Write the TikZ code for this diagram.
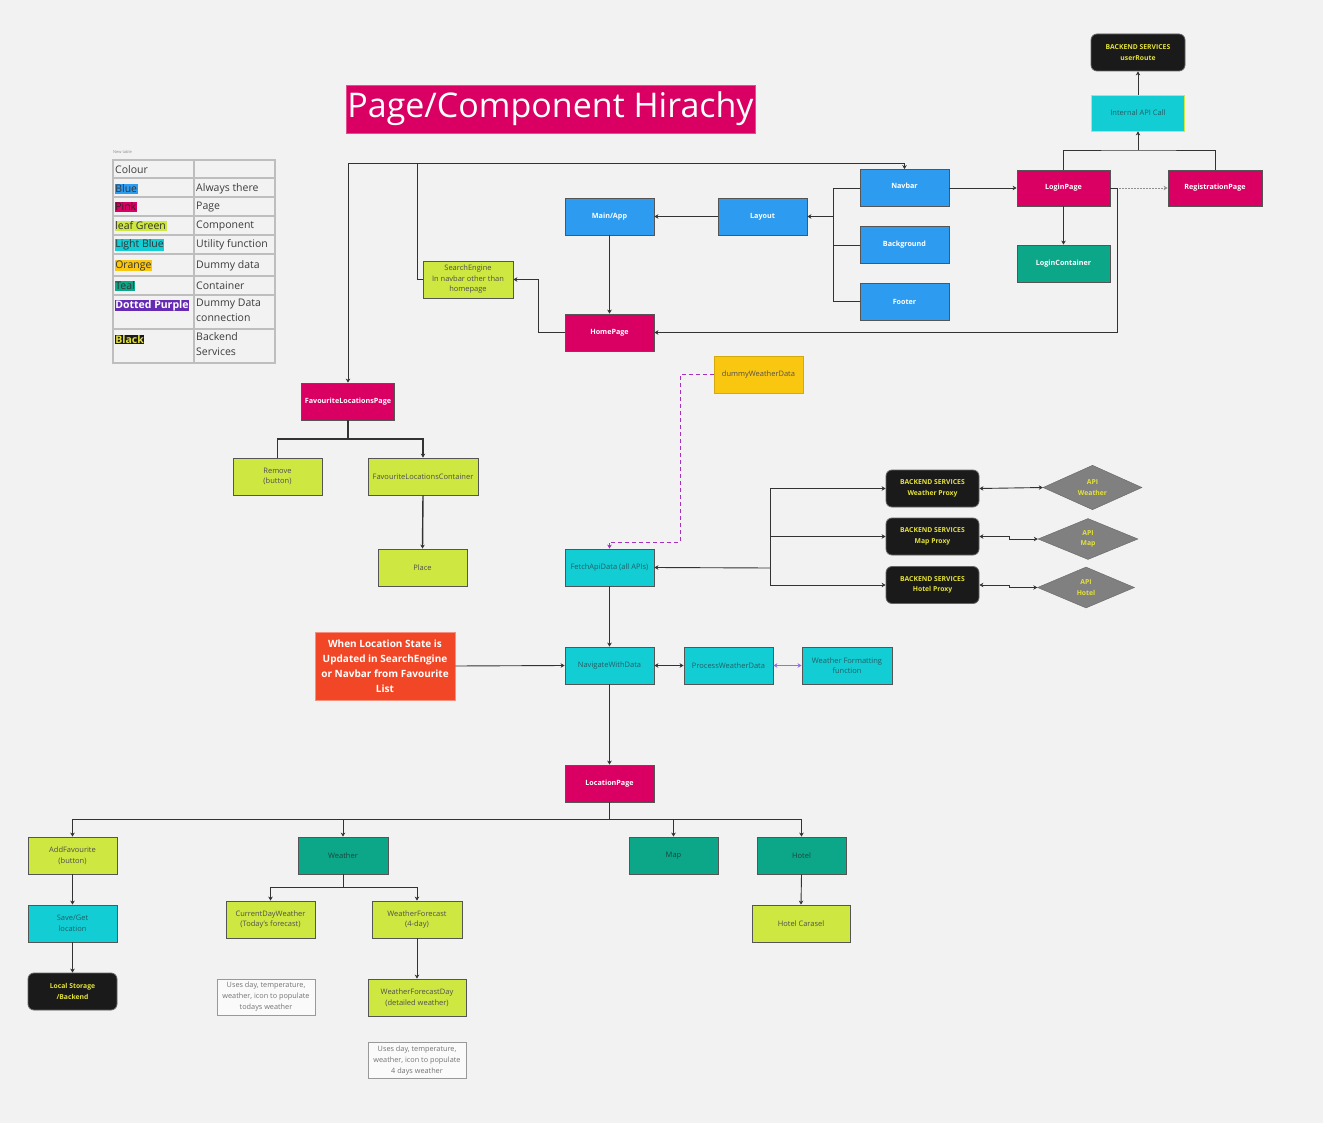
\documentclass[tikz,border=0pt]{standalone}
\usepackage{fontspec}
\setmainfont{Open Sans}
\usetikzlibrary{arrows.meta,shapes.geometric,positioning}
\definecolor{canvas}{RGB}{242,242,242}
\definecolor{alwaysblue}{RGB}{45,155,240}
\definecolor{pagepink}{RGB}{218,0,99}
\definecolor{leafgreen}{RGB}{206,231,65}
\definecolor{utilcyan}{RGB}{18,205,212}
\definecolor{dummyorange}{RGB}{250,199,16}
\definecolor{contteal}{RGB}{12,167,137}
\definecolor{backblack}{RGB}{26,26,26}
\definecolor{backyellow}{RGB}{228,226,58}
\definecolor{dottedpurple}{RGB}{101,44,179}
\definecolor{dashpurple}{RGB}{166,48,192}
\definecolor{softpurple}{RGB}{155,110,225}
\definecolor{triggerred}{RGB}{242,71,38}
\definecolor{apigray}{RGB}{128,128,128}
\definecolor{linegray}{RGB}{51,51,51}
\definecolor{edgegray}{RGB}{85,85,85}
\definecolor{tablegray}{RGB}{190,190,190}
\definecolor{comptext}{RGB}{80,80,80}
\definecolor{utiltext}{RGB}{35,95,100}
\definecolor{conttext}{RGB}{25,70,60}
\definecolor{legendtext}{RGB}{60,60,60}
\tikzset{
  wire/.style={draw=linegray,line width=0.9pt},
  flow/.style={wire,-{Stealth[length=4pt,width=4.5pt]}},
  twoway/.style={wire,{Stealth[length=4pt,width=4.5pt]}-{Stealth[length=4pt,width=4.5pt]}},
  heavy/.style={line width=1.4pt},
  dummylink/.style={draw=dashpurple,line width=0.9pt,dash pattern=on 4pt off 3pt,
                    -{Stealth[length=4pt,width=4.5pt]}},
  box/.style={draw=edgegray,line width=0.8pt,minimum width=89pt,minimum height=37pt,
              inner sep=1pt,align=center,font=\fontsize{7.5}{10.5}\selectfont},
  always/.style={box,fill=alwaysblue,text=white,font=\fontsize{7.2}{10}\selectfont\bfseries},
  page/.style={box,fill=pagepink,text=white,font=\fontsize{7.2}{10}\selectfont\bfseries},
  component/.style={box,fill=leafgreen,text=comptext},
  utility/.style={box,fill=utilcyan,text=utiltext},
  container/.style={box,fill=contteal,text=conttext},
  dummy/.style={box,fill=dummyorange,draw=dummyorange!85!black,text=comptext},
  backend/.style={box,fill=backblack,draw=black!60,rounded corners=6pt,text=backyellow,
                  font=\fontsize{6.8}{10.5}\selectfont\bfseries},
  api/.style={diamond,draw=apigray!80!black,fill=apigray,text=backyellow,inner sep=0pt,
              minimum width=99pt,minimum height=41pt,align=center,
              font=\fontsize{6.8}{10.5}\selectfont\bfseries},
  trigger/.style={box,fill=triggerred,draw=triggerred!60!white,text=white,minimum width=140pt,
                  minimum height=68pt,font=\fontsize{10}{15}\selectfont\bfseries},
  remark/.style={box,fill=canvas!40!white,draw=black!40,text=black!55,minimum width=98pt,
                 minimum height=36pt,font=\fontsize{7.3}{11}\selectfont},
  title/.style={fill=pagepink,draw=pagepink!70!white,text=white,minimum width=409pt,
                minimum height=48pt,inner sep=0pt,font=\fontsize{34}{40}\selectfont},
  legtag/.style={anchor=west,inner sep=0.6pt,text=black!80,font=\fontsize{10.5}{12}\selectfont},
  legtext/.style={anchor=west,inner sep=0pt,text=legendtext,align=left,
                  font=\fontsize{10.5}{15}\selectfont},
}
\begin{document}
\begin{tikzpicture}[x=1pt,y=-1pt]
  \path[use as bounding box] (0,0) rectangle (1323,1123);
  \fill[canvas] (0,0) rectangle (1323,1123);
  \node[title] (title) at (550.5,109) {Page/Component Hirachy};

  % colour legend
  \node[anchor=west,inner sep=0pt,text=black!45,font=\fontsize{4}{5}\selectfont] (tablecaption)
    at (113,152) {New table};
  \draw[tablegray,line width=1.2pt] (113,160) rectangle (275,363);
  \draw[tablegray,line width=1.2pt] (194,160) -- (194,363);
  \draw[tablegray,line width=1.2pt] (113,178) -- (275,178) (113,197) -- (275,197)
    (113,216) -- (275,216) (113,235) -- (275,235) (113,254) -- (275,254)
    (113,276) -- (275,276) (113,295) -- (275,295) (113,329) -- (275,329);
  \node[legtext] (colourhead) at (115,170) {Colour};
  \node[legtag,fill=alwaysblue] (tagblue) at (114.5,189) {Blue};
  \node[legtag,fill=pagepink,text=black!85] (tagpink) at (114.5,207) {Pink};
  \node[legtag,fill=leafgreen] (taggreen) at (114.5,226) {leaf Green};
  \node[legtag,fill=utilcyan] (taglightblue) at (114.5,245) {Light Blue};
  \node[legtag,fill=dummyorange] (tagorange) at (114.5,265.5) {Orange};
  \node[legtag,fill=contteal] (tagteal) at (114.5,286) {Teal};
  \node[legtag,fill=dottedpurple,text=white,font=\fontsize{10.5}{12}\selectfont\bfseries] (tagpurple)
    at (114.5,305.5) {Dotted Purple};
  \node[legtag,fill=backblack,text=backyellow,font=\fontsize{10.5}{12}\selectfont\bfseries] (tagblack)
    at (114.5,339.5) {Black};
  \node[legtext] (meanblue) at (196,189) {Always there};
  \node[legtext] (meanpink) at (196,207) {Page};
  \node[legtext] (meangreen) at (196,226) {Component};
  \node[legtext] (meanlightblue) at (196,245) {Utility function};
  \node[legtext] (meanorange) at (196,265.5) {Dummy data};
  \node[legtext] (meanteal) at (196,286) {Container};
  \node[legtext,anchor=north west] (meanpurple) at (196,298.5) {Dummy Data\\connection};
  \node[legtext,anchor=north west] (meanblack) at (196,332.5) {Backend\\Services};

  % login, layout and home
  \node[backend,minimum width=94pt] (userroute) at (1138,52.5) {BACKEND SERVICES\\userRoute};
  \node[utility,draw=leafgreen,minimum width=93pt,minimum height=36pt] (internalapi)
    at (1138,113) {Internal API Call};
  \node[always] (navbar) at (904.5,188) {\raisebox{5pt}{Navbar}};
  \node[page,minimum width=93pt,minimum height=36pt] (loginpage) at (1063.5,188) {LoginPage};
  \node[page,minimum width=94pt,minimum height=36pt] (registrationpage) at (1215,188)
    {RegistrationPage};
  \node[container,minimum width=93pt,text=white,font=\fontsize{7.2}{10}\selectfont\bfseries]
    (logincontainer) at (1063.5,263.5) {LoginContainer};
  \node[always] (background) at (904.5,245) {Background};
  \node[always] (footer) at (904.5,301.5) {Footer};
  \node[always] (layout) at (762.5,216.5) {Layout};
  \node[always] (mainapp) at (609.5,216.5) {Main/App};
  \node[component,minimum width=90pt] (searchengine) at (468,279.5)
    {SearchEngine\\In navbar other than\\homepage};
  \node[page] (homepage) at (609.5,332.5) {HomePage};
  \node[dummy] (dummyweather) at (758.5,374.5) {dummyWeatherData};

  % favourites
  \node[page,minimum width=93pt] (favpage) at (348,401.5) {FavouriteLocationsPage};
  \node[component] (removebtn) at (277.5,476.5) {Remove\\(button)};
  \node[component,minimum width=110pt] (favcontainer) at (423,476.5) {FavouriteLocationsContainer};
  \node[component] (place) at (422.5,567.5) {Place};

  % data fetching
  \node[utility] (fetchapi) at (609.5,567.5) {FetchApiData (all APIs)};
  \node[backend,minimum width=93pt] (weatherproxy) at (932.5,488.5) {BACKEND SERVICES\\Weather Proxy};
  \node[backend,minimum width=93pt] (mapproxy) at (932.5,536.5) {BACKEND SERVICES\\Map Proxy};
  \node[backend,minimum width=93pt] (hotelproxy) at (932.5,585) {BACKEND SERVICES\\Hotel Proxy};
  \node[api] (weatherapi) at (1092.5,487.5) {API\\Weather};
  \node[api,minimum width=100pt] (mapapi) at (1088,539) {API\\Map};
  \node[api,minimum width=97pt] (hotelapi) at (1086,587.5) {API\\Hotel};
  \node[trigger] (locationtrigger) at (385,666)
    {When Location State is\\Updated in SearchEngine\\or Navbar from Favourite\\List};
  \node[utility] (navigatedata) at (609.5,665.5) {NavigateWithData};
  \node[utility] (processweather) at (728.5,665.5) {ProcessWeatherData};
  \node[utility,minimum width=90pt] (formatting) at (847,665.5) {Weather Formatting\\function};

  % location page
  \node[page] (locationpage) at (609.5,783.5) {LocationPage};
  \node[component] (addfav) at (72.5,855.5) {AddFavourite\\(button)};
  \node[container,minimum width=90pt] (weather) at (343,855.5) {Weather};
  \node[container] (map) at (673.5,855.5) {Map};
  \node[container] (hotel) at (801.5,855.5) {Hotel};
  \node[utility] (savelocation) at (72.5,923.5) {Save/Get\\location};
  \node[backend] (localstorage) at (72.5,991.5) {Local Storage\\/Backend};
  \node[component] (currentday) at (270.5,919.5) {CurrentDayWeather\\(Today's forecast)};
  \node[component,minimum width=90pt] (forecast) at (417,919.5) {WeatherForecast\\(4-day)};
  \node[component,minimum width=98pt] (hotelcarousel) at (801,923.5) {Hotel Carasel};
  \node[remark] (todaynote) at (266,997)
    {Uses day, temperature,\\weather, icon to populate\\todays weather};
  \node[component,minimum width=98pt] (forecastday) at (417,997.5)
    {WeatherForecastDay\\(detailed weather)};
  \node[remark] (forecastnote) at (417,1060.5)
    {Uses day, temperature,\\weather, icon to populate\\4 days weather};

  % bends
  \coordinate (topbus) at (417,163);
  \coordinate (layoutbus) at (833,216.5);
  \coordinate (apibus) at (1138,150);
  \coordinate (favbus) at (348,439);
  \coordinate (proxybus) at (770,568);
  \coordinate (dummybend) at (680,542);
  \coordinate (locationbus) at (609.5,819);
  \coordinate (weatherbus) at (343,887);

  % connectors
  \draw[flow] (searchengine.west) -| (topbus) -| (navbar.north);
  \draw[flow] (topbus) -| (favpage.north);
  \draw[wire] (navbar.west) -| (layoutbus);
  \draw[wire] (background.west) -| (layoutbus);
  \draw[wire] (footer.west) -| (layoutbus);
  \draw[flow] (layoutbus) -- (layout.east);
  \draw[flow] (layout.west) -- (mainapp.east);
  \draw[flow] (mainapp.south) -- (homepage.north);
  \draw[flow] (homepage.west) -- ++(-26,0) |- (searchengine.east);
  \draw[flow] (navbar.east) -- (loginpage.west);
  \draw[flow,draw=linegray!55,dash pattern=on 2pt off 1pt] (loginpage.east) -- (registrationpage.west);
  \draw[flow] (loginpage.east) -- ++(7.5,0) |- (homepage.east);
  \draw[flow] (loginpage.south) -- (logincontainer.north);
  \draw[wire] (loginpage.north) |- (apibus) -| (registrationpage.north);
  \draw[flow] (apibus) -- (internalapi.south);
  \draw[flow] (internalapi.north) -- (userroute.south);

  \draw[wire,heavy] (favpage.south) -- (favbus) -| (removebtn.north);
  \draw[flow,heavy] (favbus) -| (favcontainer.north);
  \draw[flow,heavy] (favcontainer.south) -- (place.north);

  \draw[dummylink] (dummyweather.west) -| (dummybend) -| (fetchapi.north);
  \draw[flow] (proxybus) -- (fetchapi.east);
  \draw[flow] (proxybus) |- (weatherproxy.west);
  \draw[flow] (proxybus) |- (mapproxy.west);
  \draw[flow] (proxybus) |- (hotelproxy.west);
  \draw[twoway] (weatherproxy.east) -- (weatherapi.west);
  \draw[twoway] (mapproxy.east) -- ++(30,0) |- (mapapi.west);
  \draw[twoway] (hotelproxy.east) -- ++(30,0) |- (hotelapi.west);
  \draw[flow] (fetchapi.south) -- (navigatedata.north);
  \draw[flow] (locationtrigger.east) -- (navigatedata.west);
  \draw[twoway] (navigatedata.east) -- (processweather.west);
  \draw[twoway,draw=softpurple] (processweather.east) -- (formatting.west);
  \draw[flow] (navigatedata.south) -- (locationpage.north);

  \draw[wire] (locationpage.south) -- (locationbus);
  \draw[flow] (locationbus) -| (addfav.north);
  \draw[flow] (locationbus) -| (weather.north);
  \draw[flow] (locationbus) -| (map.north);
  \draw[flow] (locationbus) -| (hotel.north);
  \draw[flow] (addfav.south) -- (savelocation.north);
  \draw[flow] (savelocation.south) -- (localstorage.north);
  \draw[wire] (weather.south) -- (weatherbus);
  \draw[flow] (weatherbus) -| (currentday.north);
  \draw[flow] (weatherbus) -| (forecast.north);
  \draw[flow] (forecast.south) -- (forecastday.north);
  \draw[flow] (hotel.south) -- (hotelcarousel.north);
\end{tikzpicture}
\end{document}
